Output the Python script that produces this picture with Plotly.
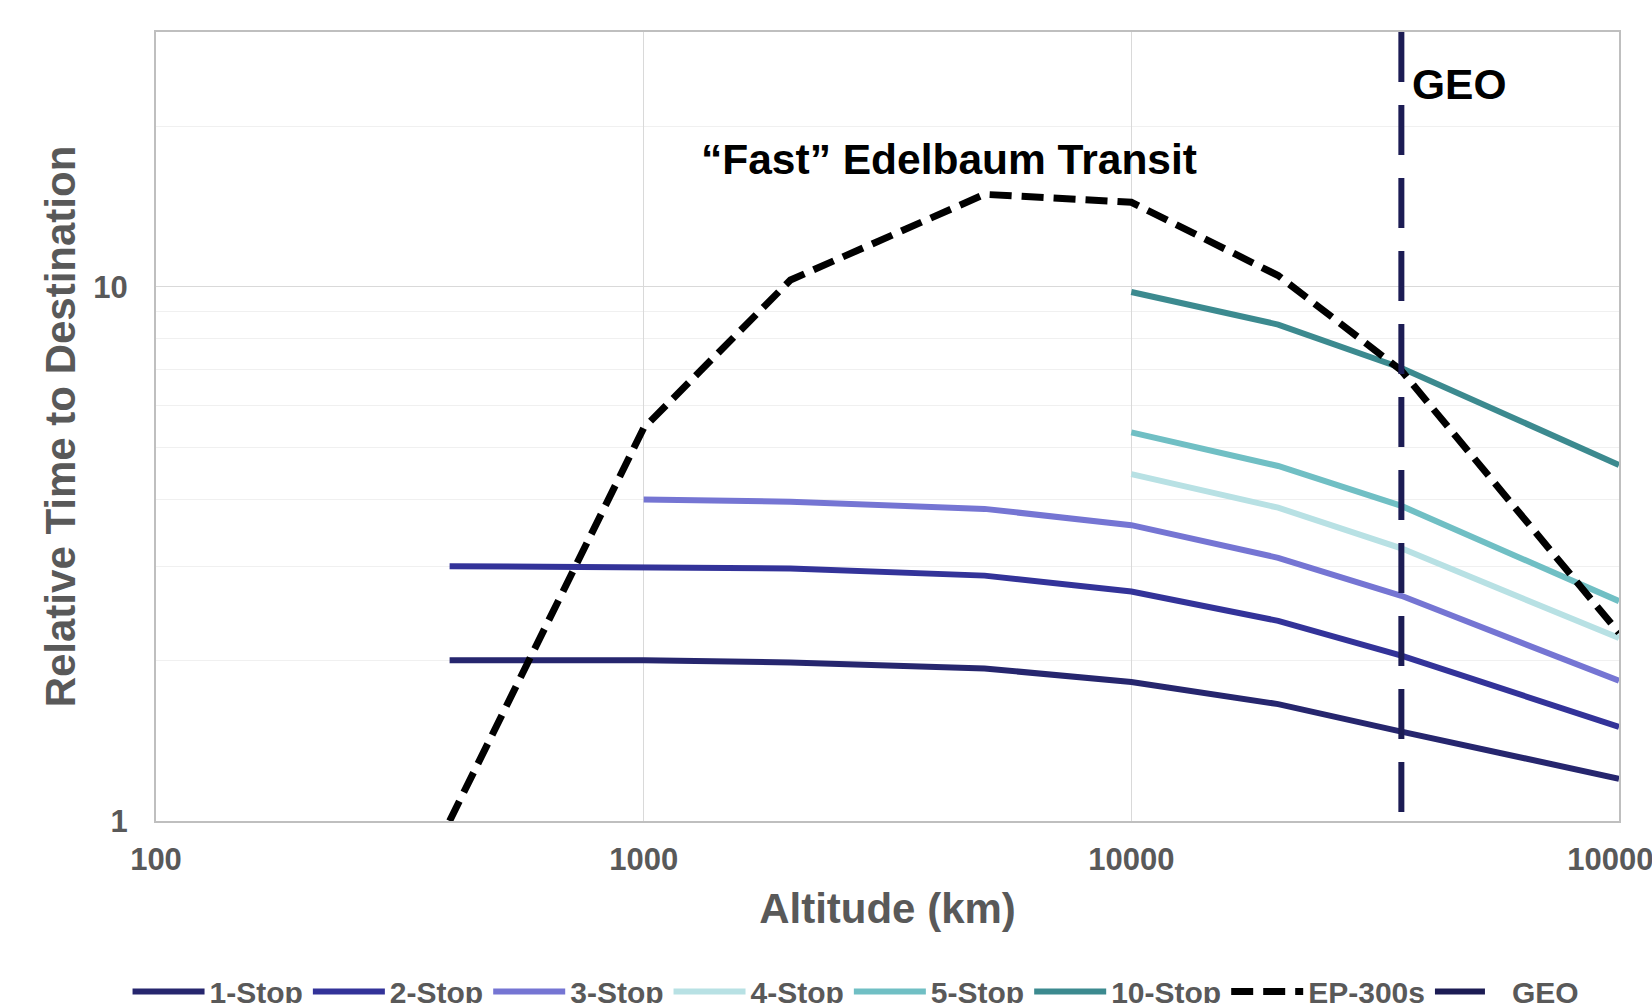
import numpy as np
import plotly.graph_objects as go

# ---- data ----
altitude = [400, 1000, 2000, 5000, 10000, 20000, 35786, 100000]
stop1 = [2.00, 2.00, 1.98, 1.93, 1.82, 1.655, 1.47, 1.20]
stop2 = [3.00, 2.99, 2.97, 2.88, 2.69, 2.37, 2.04, 1.50]
alt3 = [1000, 2000, 5000, 10000, 20000, 35786, 100000]
stop3 = [4.00, 3.96, 3.84, 3.58, 3.11, 2.64, 1.83]
alt_hi = [10000, 20000, 35786, 100000]
stop4 = [4.46, 3.86, 3.24, 2.20]
stop5 = [5.34, 4.62, 3.89, 2.58]
stop10 = [9.78, 8.50, 7.05, 4.64]
ep300 = [1.00, 5.44, 10.3, 14.9, 14.4, 10.5, 6.97, 2.25]
GEO_ALT = 35786
geo_y = [30, 1]

x_ticks = [100, 1000, 10000, 100000]
y_ticks = [1, 10]
y_minor = [2, 3, 4, 5, 6, 7, 8, 9, 20]

FONT = "Liberation Sans, Arial, sans-serif"
GRAY = "#595959"
LW = 6

series = [
    ("1-Stop", altitude, stop1, "#26266E", "solid", LW),
    ("2-Stop", altitude, stop2, "#333399", "solid", LW),
    ("3-Stop", alt3, stop3, "#7575D3", "solid", LW),
    ("4-Stop", alt_hi, stop4, "#B8E1E4", "solid", LW),
    ("5-Stop", alt_hi, stop5, "#70BFC4", "solid", LW),
    ("10-Stop", alt_hi, stop10, "#3C8A8F", "solid", LW),
    ("EP-300s", altitude, ep300, "#000000", "22px,10px", 7),
]

fig = go.Figure()
for name, xs, ys, col, dash, w in series:
    fig.add_trace(go.Scatter(x=xs, y=ys, mode="lines", name=name,
                             line=dict(color=col, width=w, dash=dash)))
fig.add_trace(go.Scatter(x=[GEO_ALT, GEO_ALT], y=geo_y, mode="lines", name="GEO",
                         line=dict(color="#1C1C54", width=LW, dash="50px,23px")))

fig.update_layout(
    width=1652, height=1003,
    margin=dict(l=156, r=33, t=32, b=182, autoexpand=False),
    paper_bgcolor="white", plot_bgcolor="white",
    font=dict(family=FONT, color=GRAY),
    showlegend=True,
    legend=dict(orientation="h", x=0.4785, xanchor="center",
                y=-0.216, yanchor="middle",
                font=dict(size=30, color=GRAY, family=FONT, weight="bold"),
                itemwidth=72, tracegroupgap=0, bgcolor="rgba(0,0,0,0)"),
    annotations=[
        dict(text="“Fast” Edelbaum Transit", xref="paper", yref="paper",
             x=0.542, y=0.8386, xanchor="center", yanchor="middle", showarrow=False,
             font=dict(size=42.5, color="black", family=FONT, weight="bold")),
        dict(text="GEO", xref="x", yref="paper", x=np.log10(GEO_ALT), y=0.9336,
             xanchor="left", yanchor="middle", xshift=9, showarrow=False,
             font=dict(size=42.5, color="black", family=FONT, weight="bold")),
    ],
)

fig.update_xaxes(
    type="log", range=[2, 5], tickvals=x_ticks, ticktext=[str(v) for v in x_ticks],
    showgrid=True, gridcolor="#D9D9D9", gridwidth=1,
    showline=True, linecolor="#BFBFBF", linewidth=2, mirror=True,
    ticks="", ticklabelstandoff=10, ticklabeloverflow="allow",
    tickfont=dict(size=31, color=GRAY, family=FONT, weight="bold"),
    title=dict(text="Altitude (km)", standoff=17,
               font=dict(size=42, color=GRAY, family=FONT, weight="bold")),
    zeroline=False,
)
fig.update_yaxes(
    type="log", range=[0, np.log10(30)], tickvals=y_ticks, ticktext=[str(v) for v in y_ticks],
    showgrid=True, gridcolor="#D9D9D9", gridwidth=1,
    minor=dict(tickvals=y_minor, showgrid=True, gridcolor="#F0F0F0", gridwidth=1, ticks=""),
    showline=True, linecolor="#BFBFBF", linewidth=2, mirror=True,
    ticks="", ticklabelstandoff=20, ticklabeloverflow="allow",
    tickfont=dict(size=31, color=GRAY, family=FONT, weight="bold"),
    title=dict(text="Relative Time to Destination", standoff=5,
               font=dict(size=42, color=GRAY, family=FONT, weight="bold")),
    zeroline=False,
)

fig.write_html("out.html")
